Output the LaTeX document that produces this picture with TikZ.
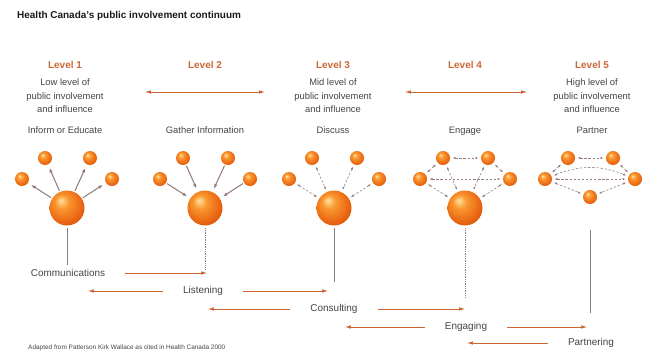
\documentclass[tikz,border=0pt]{standalone}
\usepackage{fontspec}
\setmainfont{Liberation Sans}
\usepackage{xcolor}
\definecolor{rust}{RGB}{204,102,51}
\definecolor{ink}{RGB}{68,68,68}
\definecolor{mauve}{RGB}{150,125,125}
\definecolor{ember}{RGB}{232,100,18}
\definecolor{emberHi}{RGB}{255,225,160}
\definecolor{emberMid}{RGB}{250,150,45}
\definecolor{emberEdge}{RGB}{165,48,10}
\usepackage{tikz}
\usetikzlibrary{arrows.meta, positioning}
\pgfdeclareradialshading{orb}{\pgfpoint{-9bp}{11bp}}{color(0bp)=(emberHi); color(10bp)=(emberMid); color(26bp)=(ember); color(50bp)=(emberEdge)}

\begin{document}
\begin{tikzpicture}[x=0.03cm, y=-0.03cm,
			levelStyle/.style={text=rust, anchor=base, font=\bfseries\fontsize{8.5}{10}\selectfont},
			noteStyle/.style={text=ink, align=center, font=\fontsize{8}{11.5}\selectfont},
			flowStyle/.style={text=ink, inner sep=1pt, font=\fontsize{8.5}{10}\selectfont},
			ballStyle/.style={circle, inner sep=0pt, shading=orb},
			bigBall/.style={ballStyle, minimum size=1.05cm},
			smallBall/.style={ballStyle, minimum size=0.42cm},
			pushArrow/.style={-{Latex[length=4pt, width=3pt]}, mauve, line width=0.9pt, shorten <=1pt, shorten >=3pt},
			talkArrow/.style={{Latex[length=2.5pt, width=2pt]}-{Latex[length=2.5pt, width=2pt]}, mauve, dash pattern=on 2pt off 1.5pt, line width=0.5pt, shorten <=2pt, shorten >=2pt},
			flowArrow/.style={-{Latex[length=5pt, width=3pt]}, rust, line width=0.6pt, shorten <=16pt},
			spanArrow/.style={{Latex[length=5pt, width=3pt]}-{Latex[length=5pt, width=3pt]}, rust, line width=0.6pt},
			stemStyle/.style={gray, line width=0.5pt, shorten <=2pt}]
			
			\useasboundingbox (0,0) rectangle (649,354);
			
			\node[anchor=base west, inner sep=0pt, text=black!90, font=\bfseries\fontsize{8.5}{10}\selectfont] (title) at (17,18) {Health Canada’s public involvement continuum};
			
			% levels and tasks
			\foreach \lx/\num/\task in {65/1/Inform or Educate, 205/2/Gather Information, 333/3/Discuss, 465/4/Engage, 592/5/Partner} {
				\node[levelStyle] (lvl\num) at (\lx,68) {Level \num};
				\node[noteStyle, anchor=base] (task\num) at (\lx,133) {\task};
			}
			\node[noteStyle] (desc1) at (65,96) {Low level of\\public involvement\\and influence};
			\node[noteStyle] (desc3) at (333,96) {Mid level of\\public involvement\\and influence};
			\node[noteStyle] (desc5) at (592,96) {High level of\\public involvement\\and influence};
			
			\coordinate (span2a) at (145,92);
			\coordinate (span2b) at (265,92);
			\coordinate (span4a) at (405,92);
			\coordinate (span4b) at (527,92);
			\draw[spanArrow] (span2a) -- (span2b);
			\draw[spanArrow] (span4a) -- (span4b);
			
			% spheres
			\foreach \bx [count=\i] in {67,205,334,465,590} {
				\node[smallBall] (a\i) at (\bx-22,158) {};
				\node[smallBall] (b\i) at (\bx+23,158) {};
				\node[smallBall] (c\i) at (\bx-45,179) {};
				\node[smallBall] (d\i) at (\bx+45,179) {};
			}
			\foreach \bx [count=\i] in {67,205,334,465}
			\node[bigBall] (big\i) at (\bx,208) {};
			\node[smallBall] (e5) at (590,197) {};
			
			\foreach \s in {a,b,c,d} {
				\draw[pushArrow] (big1) -- (\s1);
				\draw[pushArrow] (\s2) -- (big2);
				\draw[talkArrow] (\s3) -- (big3);
				\draw[talkArrow] (\s4) -- (big4);
			}
			\foreach \p/\q in {a/b, c/d, c/a, d/b} {
				\draw[talkArrow] (\p4) -- (\q4);
				\draw[talkArrow] (\p5) -- (\q5);
			}
			\draw[talkArrow] (c5) -- (e5);
			\draw[talkArrow] (d5) -- (e5);
			\draw[talkArrow] (c5) to[bend left=22] (d5);
			
			% stems
			\coordinate (s1) at (67,265);
			\coordinate (s2) at (205,270);
			\coordinate (s3) at (334,282);
			\coordinate (s4) at (465,298);
			\coordinate (s5) at (590,313);
			\draw[stemStyle] (big1) -- (s1);
			\draw[stemStyle, densely dotted] (big2) -- (s2);
			\draw[stemStyle] (big3) -- (s3);
			\draw[stemStyle, densely dotted] (big4) -- (s4);
			\draw[stemStyle, shorten <=22pt] (e5) -- (s5);
			
			% continuum
			\node[flowStyle] (comm) at (68,273) {Communications};
			\node[flowStyle] (listen) at (203,291) {Listening};
			\node[flowStyle] (consult) at (334,309) {Consulting};
			\node[flowStyle] (engage) at (466,327) {Engaging};
			\node[flowStyle] (partner) at (591,343) {Partnering};
			
			\coordinate (commR) at (207,273);
			\coordinate (listenL) at (88,291);
			\coordinate (listenR) at (328,291);
			\coordinate (consultL) at (208,309);
			\coordinate (consultR) at (465,309);
			\coordinate (engageL) at (345,327);
			\coordinate (engageR) at (587,327);
			\coordinate (partnerL) at (467,343);
			
			\draw[flowArrow] (comm) -- (commR);
			\draw[flowArrow] (listen) -- (listenL);
			\draw[flowArrow] (listen) -- (listenR);
			\draw[flowArrow] (consult) -- (consultL);
			\draw[flowArrow] (consult) -- (consultR);
			\draw[flowArrow] (engage) -- (engageL);
			\draw[flowArrow] (engage) -- (engageR);
			\draw[flowArrow] (partner) -- (partnerL);
			
			\node[anchor=west, inner sep=0pt, text=ink, font=\fontsize{5.5}{6}\selectfont] (source) at (28,348) {Adapted from Patterson Kirk Wallace as cited in Health Canada 2000};
		\end{tikzpicture}
\end{document}
